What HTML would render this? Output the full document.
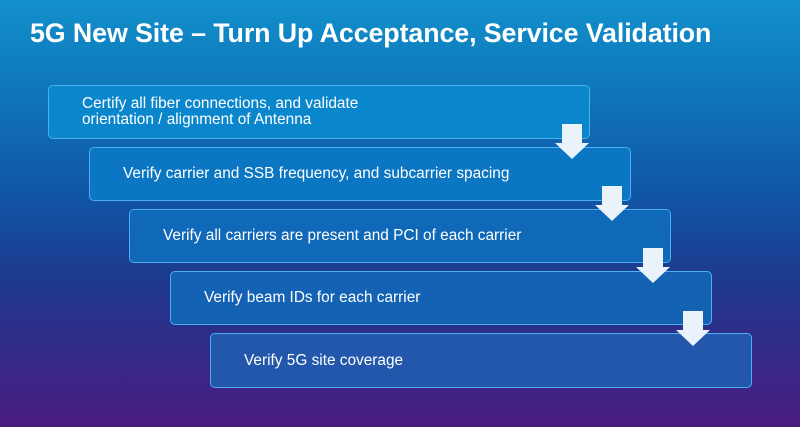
<!DOCTYPE html>
<html><head><style>
body{margin:0}
#c{position:relative;width:800px;height:427px;overflow:hidden;font-family:"Liberation Sans",sans-serif;
background:linear-gradient(180deg,#1290cc 0%,#0f78bb 20%,#1056a6 45%,#1d3a8f 65%,#332a88 82%,#4a1d80 100%);}
h1{position:absolute;left:30px;top:18px;margin:0;font-size:26.8px;font-weight:bold;color:#fff;letter-spacing:-0.1px}
.b{position:absolute;width:542px;height:52px;border:1px solid #4ab0f0;border-radius:5px;color:#fff;font-size:15.4px;box-sizing:border-box;display:flex;align-items:center;padding-left:33px;line-height:16px}
.a{position:absolute}
</style></head><body><div id="c">
<h1>5G New Site – Turn Up Acceptance, Service Validation</h1>
<div class="b" style="left:48px;top:85px;height:54px;background:#0a86cc">Certify all fiber connections, and validate<br>orientation / alignment of Antenna</div>
<div class="b" style="left:89px;top:147px;height:54px;background:#0b76c2">Verify carrier and SSB frequency, and subcarrier spacing</div>
<div class="b" style="left:129px;top:209px;height:54px;background:#0f68b8">Verify all carriers are present and PCI of each carrier</div>
<div class="b" style="left:170px;top:271px;height:54px;background:#1462b4">Verify beam IDs for each carrier</div>
<div class="b" style="left:210px;top:333px;height:55px;background:#2257ab">Verify 5G site coverage</div>
<svg class="a" style="left:0;top:0" width="800" height="427">
<g fill="#eaf2fa">
<polygon points="562,124 582,124 582,143 589,143 572,159 555,143 562,143"/>
<polygon points="602,186 622,186 622,205 629,205 612,221 595,205 602,205"/>
<polygon points="643,248 663,248 663,267 670,267 653,283 636,267 643,267"/>
<polygon points="683,311 703,311 703,330 710,330 693,346 676,330 683,330"/>
</g></svg>
</div></body></html>
